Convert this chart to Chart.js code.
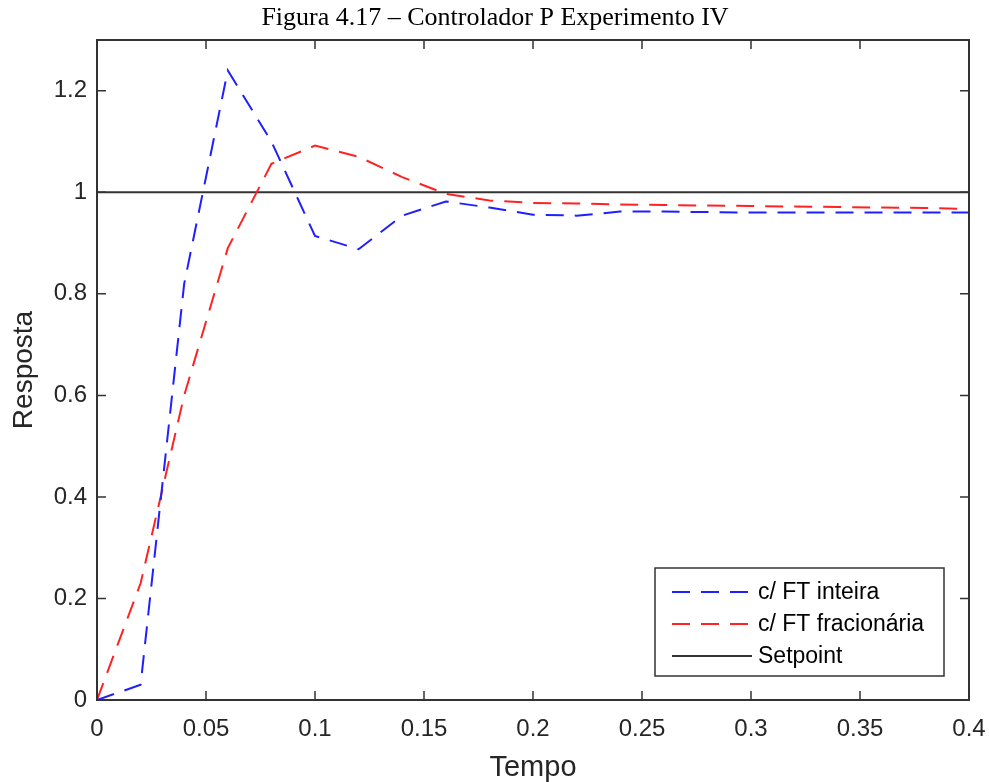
<!DOCTYPE html>
<html>
<head>
<meta charset="utf-8">
<script src="https://cdn.jsdelivr.net/npm/chart.js@4/dist/chart.umd.min.js"></script>
<style>
    body { margin: 0; background: #fff; }
    canvas { display: block; }
</style>
</head>
<body>
<canvas id="chart" width="989" height="782"></canvas>
<script>
const tempo        = [0, 0.02, 0.04, 0.06, 0.08, 0.10, 0.12, 0.14, 0.16, 0.18, 0.20, 0.22, 0.24, 0.26, 0.28, 0.30, 0.32, 0.34, 0.36, 0.38, 0.40]
const ftInteira    = [0, 0.03, 0.82, 1.24, 1.10, 0.914, 0.888, 0.954, 0.982, 0.970, 0.956, 0.954, 0.962, 0.962, 0.961, 0.960, 0.960, 0.960, 0.960, 0.960, 0.960]
const ftFracionaria = [0, 0.23, 0.60, 0.89, 1.056, 1.092, 1.07, 1.03, 0.997, 0.984, 0.979, 0.978, 0.976, 0.975, 0.974, 0.973, 0.972, 0.971, 0.970, 0.969, 0.967]
const setpointTempo = [0, 0.4]
const setpoint      = [1, 1]

const xTicks = [0, 0.05, 0.1, 0.15, 0.2, 0.25, 0.3, 0.35, 0.4]
const yTicks = [0, 0.2, 0.4, 0.6, 0.8, 1, 1.2]

const titulo = 'Figura 4.17 – Controlador P Experimento IV'
const sans   = '"Liberation Sans", Arial, sans-serif'

const toPoints = (xs, ys) => xs.map((x, i) => ({ x: x, y: ys[i] }))

// frame, inward ticks, title and legend box
const framePlugin = {
    id: 'frame',
    beforeDraw(chart) {
        const ctx = chart.ctx
        ctx.save()
        ctx.fillStyle = '#fff'
        ctx.fillRect(0, 0, chart.width, chart.height)
        ctx.restore()
    },
    afterDraw(chart) {
        const ctx  = chart.ctx
        const area = chart.chartArea
        const xs   = chart.scales.x
        const ys   = chart.scales.y
        const len  = 9

        ctx.save()
        ctx.strokeStyle = '#333'
        ctx.lineWidth   = 2
        ctx.strokeRect(area.left, area.top, area.right - area.left, area.bottom - area.top)

        ctx.lineWidth = 1.5
        ctx.beginPath()
        xs.ticks.forEach((t) => {
            let px = xs.getPixelForValue(t.value)
            ctx.moveTo(px, area.bottom)
            ctx.lineTo(px, area.bottom - len)
            ctx.moveTo(px, area.top)
            ctx.lineTo(px, area.top + len)
        })
        ys.ticks.forEach((t) => {
            let py = ys.getPixelForValue(t.value)
            ctx.moveTo(area.left, py)
            ctx.lineTo(area.left + len, py)
            ctx.moveTo(area.right, py)
            ctx.lineTo(area.right - len, py)
        })
        ctx.stroke()

        // title
        ctx.fillStyle    = '#000'
        ctx.font         = '26px "Liberation Serif", "Times New Roman", serif'
        ctx.textAlign    = 'center'
        ctx.textBaseline = 'alphabetic'
        ctx.fillText(titulo, 495, 25)

        // legend
        let lx = 655, ly = 568, lw = 289, lh = 108
        ctx.fillStyle   = '#fff'
        ctx.fillRect(lx, ly, lw, lh)
        ctx.strokeStyle = '#333'
        ctx.lineWidth   = 1.5
        ctx.strokeRect(lx, ly, lw, lh)

        ctx.font         = '23px ' + sans
        ctx.textAlign    = 'left'
        ctx.textBaseline = 'middle'
        chart.data.datasets.forEach((ds, i) => {
            let ry = ly + 24 + i * 32
            ctx.strokeStyle = ds.borderColor
            ctx.lineWidth   = ds.borderWidth
            ctx.setLineDash(ds.borderDash || [])
            ctx.beginPath()
            ctx.moveTo(lx + 17, ry)
            ctx.lineTo(lx + 97, ry)
            ctx.stroke()
            ctx.setLineDash([])
            ctx.fillStyle = '#000'
            ctx.fillText(ds.label, lx + 103, ry + 1)
        })
        ctx.restore()
    }
}

new Chart(document.getElementById('chart'), {
    type: 'line',
    data: {
        datasets: [
            {
                label: 'c/ FT inteira',
                data: toPoints(tempo, ftInteira),
                borderColor: '#1f1fff',
                borderWidth: 2,
                borderDash: [18, 11],
                pointRadius: 0,
                tension: 0
            },
            {
                label: 'c/ FT fracionária',
                data: toPoints(tempo, ftFracionaria),
                borderColor: '#ff2222',
                borderWidth: 2,
                borderDash: [18, 11],
                pointRadius: 0,
                tension: 0
            },
            {
                label: 'Setpoint',
                data: toPoints(setpointTempo, setpoint),
                borderColor: '#333',
                borderWidth: 2,
                pointRadius: 0,
                tension: 0
            }
        ]
    },
    options: {
        responsive: false,
        animation: false,
        layout: { padding: { top: 40, right: 20, left: 0, bottom: 0 } },
        plugins: {
            legend: { display: false },
            tooltip: { enabled: false }
        },
        scales: {
            x: {
                type: 'linear',
                min: 0,
                max: 0.4,
                afterBuildTicks: (scale) => { scale.ticks = xTicks.map((v) => ({ value: v })) },
                afterFit: (scale) => {
                    scale.height       = 82
                    scale.paddingLeft  = 0
                    scale.paddingRight = 0
                },
                grid: { display: false, drawTicks: false },
                border: { display: false },
                ticks: {
                    color: '#262626',
                    font: { family: sans, size: 24 },
                    padding: 15,
                    maxRotation: 0,
                    autoSkip: false,
                    callback: (v) => String(Number(v.toFixed(2)))
                },
                title: {
                    display: true,
                    text: 'Tempo',
                    color: '#262626',
                    font: { family: sans, size: 29, lineHeight: 1 },
                    padding: { top: 0, bottom: 0 }
                }
            },
            y: {
                type: 'linear',
                min: 0,
                max: 1.3,
                afterBuildTicks: (scale) => { scale.ticks = yTicks.map((v) => ({ value: v })) },
                afterFit: (scale) => { scale.width = 97 },
                grid: { display: false, drawTicks: false },
                border: { display: false },
                ticks: {
                    color: '#262626',
                    font: { family: sans, size: 24 },
                    padding: 10,
                    callback: (v) => String(Number(v.toFixed(2)))
                },
                title: {
                    display: true,
                    text: 'Resposta',
                    color: '#262626',
                    font: { family: sans, size: 28, lineHeight: 1 },
                    padding: { top: 10, bottom: 0 }
                }
            }
        }
    },
    plugins: [framePlugin]
})
</script>
</body>
</html>
